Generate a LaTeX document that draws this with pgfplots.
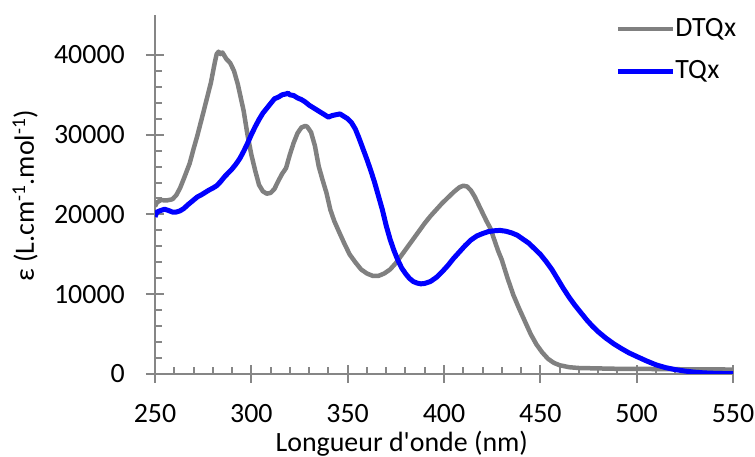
\documentclass[border=0pt]{standalone}
\usepackage{pgfplots}
\pgfplotsset{compat=1.18}
\usepackage{fontspec}
\setmainfont{Carlito}
\newcommand\cf{\fontsize{28}{34}\selectfont}
\definecolor{dgray}{RGB}{128,128,128}
\definecolor{axgray}{RGB}{134,134,134}
\definecolor{tqblue}{RGB}{0,0,255}
\begin{document}
\begin{tikzpicture}
\path[use as bounding box] (0,0) rectangle (755bp,457bp);
\begin{axis}[
  at={(155bp,83bp)}, anchor=south west,
  scale only axis, width=578bp, height=359bp,
  xmin=250, xmax=550, ymin=0, ymax=45000,
  xtick={250,300,...,550}, ytick={0,10000,...,40000},
  minor x tick num=4, minor y tick num=4,
  axis x line*=bottom, axis y line*=left,
  axis line style={axgray, line width=2bp},
  every tick/.style={axgray, line width=2bp},
  tick align=center,
  major tick length=18bp, minor tick length=7bp,
  every minor x tick/.append style={yshift=3.5bp},
  every minor y tick/.append style={xshift=3.5bp},
  scaled y ticks=false,
  /pgf/number format/1000 sep={},
  /pgf/number format/assume math mode=true,
  tick label style={font=\cf, text=black},
  xticklabel style={anchor=north, inner sep=0pt, yshift=-21bp},
  yticklabel style={anchor=east, inner sep=0pt, xshift=-21bp},
  xlabel={Longueur d\textquotesingle onde (nm)},
  ylabel={ε (L.cm\textsuperscript{-1}.mol\textsuperscript{-1})},
  label style={font=\cf},
  xlabel style={at={([yshift=-77bp]axis description cs:0.427,0)}, anchor=base, inner sep=0pt},
  ylabel style={at={([xshift=-121bp]axis description cs:0,0.256)}, anchor=base west, rotate=0, inner sep=0pt},
  legend style={draw=none, fill=none, font=\cf, at={(rel axis cs:0.796,1)}, anchor=north west, yshift=-2bp,
    inner sep=0pt, row sep=18bp, nodes={inner sep=0pt, text height=19bp, text depth=5bp}},
  legend cell align=left,
  legend image code/.code={\draw[#1] (0bp,0bp) -- (55bp,0bp);},
  /tikz/every even column/.append style={column sep=6bp},
]
\addplot[dgray, line width=4.5bp, line join=round] coordinates {
(250,21000)(251,21500)(253,21800)(256,21750)(259,21900)(261,22400)(263,23300)(265,24500)(268,26400)(270,28200)(272,29900)(275,32700)(277,34600)(279,36500)(281,39000)(282,40100)(283,40400)(284,40100)(285,40300)(287,39500)(289,39000)(291,38000)(293,36300)(294,35200)(296,33000)(298,30000)(300,27500)(302,25500)(304,23700)(306,22900)(308,22600)(310,22700)(312,23200)(314,24200)(316,25100)(318,25800)(320,27500)(322,29000)(324,30200)(326,30900)(328,31100)(329,31000)(331,30300)(333,28600)(335,26000)(337,24300)(339,22700)(341,20600)(343,19200)(345,18100)(348,16500)(351,15000)(354,14000)(357,13100)(360,12600)(363,12300)(366,12300)(369,12600)(372,13100)(375,13900)(378,14900)(381,15900)(384,16900)(387,17900)(390,18900)(393,19800)(396,20600)(399,21400)(402,22100)(405,22800)(408,23400)(410,23600)(412,23500)(414,23000)(416,22200)(418,21200)(420,20200)(422,19200)(424,18300)(426,16900)(428,15500)(430,14300)(433,12000)(436,9900)(439,8200)(442,6600)(445,5000)(448,3700)(451,2700)(454,1900)(457,1400)(460,1100)(465,850)(470,750)(480,700)(490,650)(500,650)(510,620)(520,600)(530,580)(540,570)(550,560)
};
\addlegendentry{DTQx}
\addplot[tqblue, line width=5bp, line join=round] coordinates {
(250,19700)(251,20300)(253,20500)(255,20650)(257,20500)(259,20300)(261,20300)(263,20450)(265,20750)(267,21200)(270,21800)(272,22200)(274,22450)(276,22750)(278,23050)(280,23300)(282,23600)(284,24100)(286,24700)(288,25200)(290,25700)(292,26300)(294,27000)(296,27900)(298,28900)(300,30000)(302,31000)(304,31900)(306,32700)(308,33300)(310,33900)(312,34500)(314,34700)(316,35000)(318,35100)(319,35200)(320,35000)(322,34900)(324,34600)(326,34400)(328,34100)(330,33700)(332,33400)(334,33100)(336,32800)(338,32500)(340,32200)(342,32400)(344,32500)(346,32600)(348,32300)(350,32000)(352,31500)(354,30700)(356,29500)(358,28200)(360,26900)(362,25500)(364,24000)(366,22300)(368,20600)(370,18600)(372,16900)(374,15500)(376,14300)(378,13300)(380,12600)(382,12000)(384,11600)(386,11400)(388,11300)(390,11350)(393,11600)(396,12100)(399,12800)(402,13600)(405,14500)(408,15300)(411,16100)(414,16800)(417,17300)(420,17600)(423,17850)(426,17950)(429,18000)(432,17900)(435,17700)(438,17400)(441,16900)(444,16400)(447,15700)(450,15000)(453,14100)(456,13100)(459,11900)(462,10700)(465,9600)(468,8600)(471,7700)(474,6800)(477,6000)(480,5300)(484,4500)(488,3800)(492,3200)(496,2650)(500,2200)(505,1650)(510,1150)(515,800)(520,550)(525,370)(530,230)(535,140)(540,90)(545,60)(550,40)
};
\addlegendentry{TQx}
\end{axis}
\end{tikzpicture}
\end{document}
